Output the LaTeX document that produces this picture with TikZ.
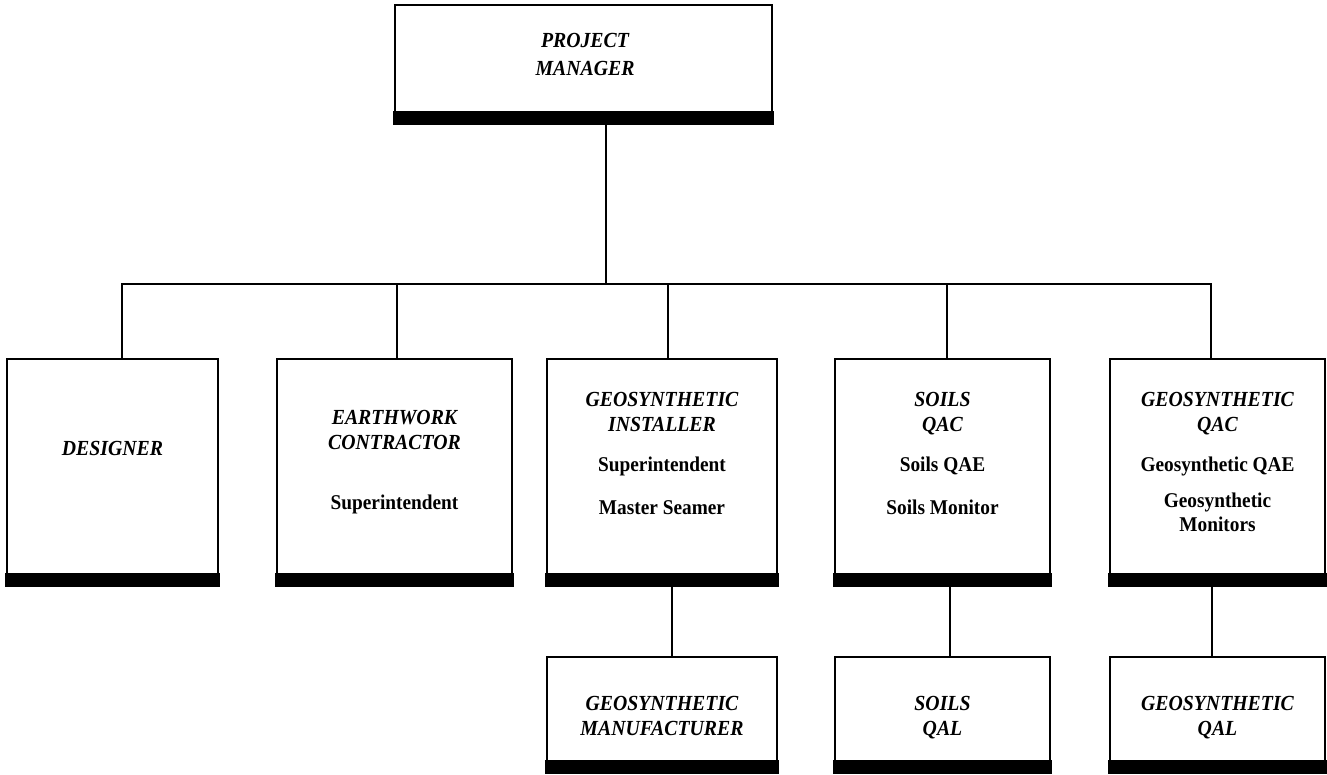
\documentclass[tikz,border=0pt]{standalone}
\usepackage{fontspec}
\setmainfont{Liberation Serif}
\newfontfamily\ttlfont[FakeStretch=0.92]{Liberation Serif}
\newfontfamily\subfont[FakeStretch=0.92]{Liberation Serif}
\begin{document}
\begin{tikzpicture}[x=1pt,y=-1pt,
  orgbox/.style={draw,line width=2.2pt,rectangle,inner sep=0pt},
  ttl/.style={font=\ttlfont\fontsize{21.5}{23}\selectfont\bfseries\itshape,inner sep=0pt,anchor=base},
  sub/.style={font=\subfont\fontsize{21}{23}\selectfont\bfseries,inner sep=0pt,anchor=base},
  conn/.style={line width=2pt}]
\useasboundingbox (0,0) rectangle (1327,774);
% boxes
\node[orgbox,minimum width=377pt,minimum height=118pt] (pm) at (583.5,64) {};
\node[orgbox,minimum width=211pt,minimum height=226pt] (des) at (112.5,472) {};
\node[orgbox,minimum width=235pt,minimum height=226pt] (ew) at (394.5,472) {};
\node[orgbox,minimum width=230pt,minimum height=226pt] (gi) at (662,472) {};
\node[orgbox,minimum width=215pt,minimum height=226pt] (sq) at (942.5,472) {};
\node[orgbox,minimum width=215pt,minimum height=226pt] (gq) at (1217.5,472) {};
\node[orgbox,minimum width=230pt,minimum height=115pt] (gm) at (662,714.5) {};
\node[orgbox,minimum width=215pt,minimum height=115pt] (sl) at (942.5,714.5) {};
\node[orgbox,minimum width=215pt,minimum height=115pt] (gl) at (1217.5,714.5) {};
% shadow bars
\foreach \b in {pm,des,ew,gi,sq,gq,gm,sl,gl}
  \fill ([xshift=-1.1pt,yshift=-1.1pt]\b.south west) rectangle ([xshift=1.1pt,yshift=13pt]\b.south east);
% connector attachment points
\coordinate (bus) at (0,284);
\coordinate (pmB) at ([xshift=22.5pt]pm.south);
\coordinate (desT) at ([xshift=9.5pt]des.north);
\coordinate (ewT) at ([xshift=2.5pt]ew.north);
\coordinate (giT) at ([xshift=6pt]gi.north);
\coordinate (sqT) at ([xshift=4.5pt]sq.north);
\coordinate (gqT) at ([xshift=-6.5pt]gq.north);
% connectors
\draw[conn] (pmB) -- (pmB |- bus);
\draw[conn] (desT) |- (gqT |- bus) -- (gqT);
\draw[conn] (ewT) -- (ewT |- bus);
\draw[conn] (giT) -- (giT |- bus);
\draw[conn] (sqT) -- (sqT |- bus);
\draw[conn] ([xshift=10pt]gi.south) -- ([xshift=10pt]gm.north);
\draw[conn] ([xshift=7.5pt]sq.south) -- ([xshift=7.5pt]sl.north);
\draw[conn] ([xshift=-5.5pt]gq.south) -- ([xshift=-5.5pt]gl.north);
% texts
\node[ttl] (t1) at (585,47) {PROJECT};
\node[ttl] (t2) at (585,75) {MANAGER};
\node[ttl] (t3) at (112.5,455) {DESIGNER};
\node[ttl] (t4) at (394.5,424) {EARTHWORK};
\node[ttl] (t5) at (394.5,449) {CONTRACTOR};
\node[sub] (t6) at (394.5,509) {Superintendent};
\node[ttl] (t7) at (662,406) {GEOSYNTHETIC};
\node[ttl] (t8) at (662,431) {INSTALLER};
\node[sub] (t9) at (662,471) {Superintendent};
\node[sub] (t10) at (662,514) {Master Seamer};
\node[ttl] (t11) at (942.5,406) {SOILS};
\node[ttl] (t12) at (942.5,431) {QAC};
\node[sub] (t13) at (942.5,471) {Soils QAE};
\node[sub] (t14) at (942.5,514) {Soils Monitor};
\node[ttl] (t15) at (1217.5,406) {GEOSYNTHETIC};
\node[ttl] (t16) at (1217.5,431) {QAC};
\node[sub] (t17) at (1217.5,471) {Geosynthetic QAE};
\node[sub] (t18) at (1217.5,507) {Geosynthetic};
\node[sub] (t19) at (1217.5,531) {Monitors};
\node[ttl] (t20) at (662,710) {GEOSYNTHETIC};
\node[ttl] (t21) at (662,735) {MANUFACTURER};
\node[ttl] (t22) at (942.5,710) {SOILS};
\node[ttl] (t23) at (942.5,735) {QAL};
\node[ttl] (t24) at (1217.5,710) {GEOSYNTHETIC};
\node[ttl] (t25) at (1217.5,735) {QAL};
\end{tikzpicture}
\end{document}
